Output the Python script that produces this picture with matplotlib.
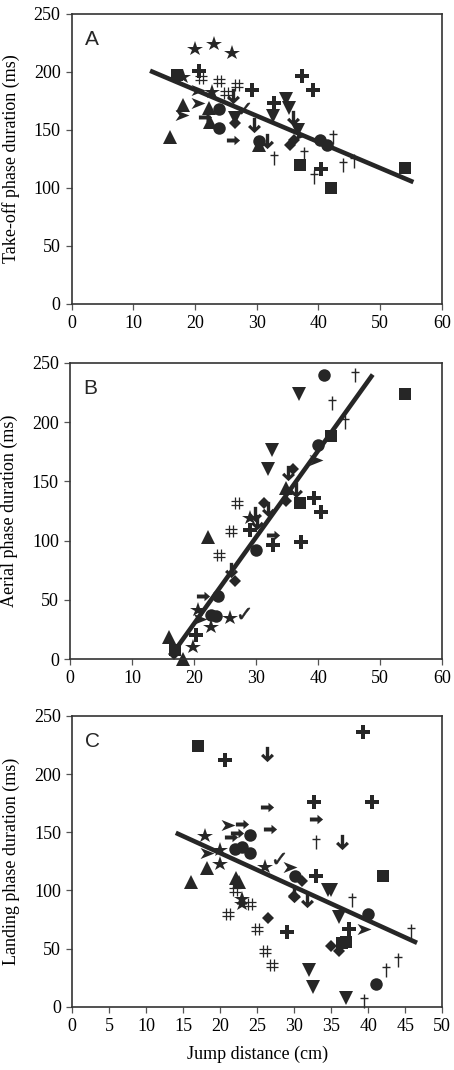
import matplotlib
matplotlib.use('Agg')
import matplotlib.pyplot as plt
import numpy as np
from matplotlib.path import Path

# panel A: take-off phase
a_x = [20, 23, 26, 18, 22.7,
       17, 37, 42, 54,
       20.6, 29.2, 37.3, 39.2, 32.8, 40.4,
       20.9, 23.9, 26.8, 25,
       42.3, 37.6, 32.8, 44, 45.7, 39.3,
       15.9, 18.1, 22.2, 22.4, 30.3,
       34.7, 35.3, 26.5, 36.7, 32.6,
       26.2, 35.9, 29.6, 31.6,
       23.9, 23.9, 30.3, 40.2, 41.4,
       26.5, 35.4, 36,
       26.2, 21.6,
       17.8, 20.5, 20.5, 37,
       28]
a_y = [220, 224, 216, 196, 183,
       197, 120, 100, 117,
       201, 184, 196.5, 184, 173, 116,
       195, 192.5, 189, 181.6,
       144, 129, 126, 120, 123, 109,
       144, 171.5, 169, 157, 137,
       177, 169, 160, 150, 162,
       179, 160, 154, 140,
       168, 152, 140, 141, 137,
       156, 137, 141,
       141, 161,
       163, 184, 173, 146,
       169]
a_kind = ['star'] * 5 + ['square'] * 4 + ['plus'] * 6 + ['hash'] * 4 + ['dagger'] * 6 + \
         ['tri_up'] * 5 + ['tri_down'] * 5 + ['darrow'] * 4 + ['circle'] * 5 + ['diamond'] * 3 + \
         ['rarrow'] * 2 + ['ahead'] * 4 + ['check']

# panel B: aerial phase
b_x = [41, 40, 30, 23.9, 22.8, 23.6,
       46, 42.3, 44.3,
       54, 42, 37.1, 16.9,
       37, 32.5, 32,
       39.6, 21,
       36, 34.9, 31.2, 26.6, 16.7,
       35.2, 36.5, 32, 29.8, 30.1, 26,
       34.9, 22.3, 16, 18.2,
       39.3, 40.4, 37.3, 32.8, 29, 20.4,
       32.8, 21.5,
       27, 26, 24,
       29.1, 20.7, 25.8, 22.8, 19.9,
       28]
b_y = [240, 180.5, 92, 53, 37, 36,
       240, 216, 200,
       224, 188, 131.5, 8,
       224, 176.5, 160,
       168, 34,
       160, 133, 131.5, 65.5, 4,
       157, 143, 127, 122, 116, 75,
       144, 103, 19, 0,
       136, 124, 99, 96, 109, 20.5,
       105, 53,
       132, 108, 88,
       119, 41.6, 35, 27.5, 10.6,
       39]
b_kind = ['circle'] * 6 + ['dagger'] * 3 + ['square'] * 4 + ['tri_down'] * 3 + ['ahead'] * 2 + \
         ['diamond'] * 5 + ['darrow'] * 6 + ['tri_up'] * 4 + ['plus'] * 6 + ['rarrow'] * 2 + \
         ['hash'] * 3 + ['star'] * 5 + ['check']

# panel C: landing phase
c_x = [17, 42, 37, 36.4,
       20.7, 39.3, 32.7, 40.5, 33, 37.4, 29,
       26.3, 36.5, 30, 31.7,
       26.3, 33, 26.7, 23, 22.3, 21.5,
       21.1, 18.2, 29.4, 39.5,
       24, 22, 24, 30.1, 40, 41, 23,
       33, 37.8, 45.8, 44, 42.4, 39.4,
       18, 20, 20, 26.1, 23, 23,
       18.2, 16, 22.2, 22.6,
       28,
       31, 30, 26.5, 35, 36,
       35, 34.6, 36, 32, 32.6, 37,
       22, 24, 21, 25, 26, 27]
c_y = [224, 112, 56, 55,
       212, 236, 176, 176, 112, 67, 64,
       217, 142, 96, 92,
       172, 161, 153, 157, 149, 146,
       156, 132, 120, 67,
       148, 136, 132, 112, 80, 20, 137,
       142, 92, 65, 40, 32, 5,
       147, 135, 123, 120, 93, 88,
       119, 107, 111, 107,
       128,
       108, 95, 76, 52, 48,
       100, 100, 77, 32, 17, 8,
       100, 88, 80, 67, 48, 36]
c_kind = ['square'] * 4 + ['plus'] * 7 + ['darrow'] * 4 + ['rarrow'] * 6 + ['ahead'] * 4 + \
         ['circle'] * 7 + ['dagger'] * 6 + ['star'] * 6 + ['tri_up'] * 4 + ['check'] + \
         ['diamond'] * 5 + ['tri_down'] * 6 + ['hash'] * 6

# regression line end points
a_line_x = [12.7, 55.4]
a_line_y = [201, 105]
b_line_x = [16.4, 48.8]
b_line_y = [3.6, 240]
c_line_x = [14.0, 46.6]
c_line_y = [149.5, 55]

ylabels = ['Take-off phase duration (ms)', 'Aerial phase duration (ms)',
           'Landing phase duration (ms)']
letters = ['A', 'B', 'C']

ink = '#262626'
serif = 'Liberation Serif'

M, L = Path.MOVETO, Path.LINETO
rarrow = Path([(-1, -0.3), (0.15, -0.3), (0.15, -0.72), (1, 0), (0.15, 0.72),
               (0.15, 0.3), (-1, 0.3), (-1, -0.3)])
darrow = Path([(-0.22, 1), (0.22, 1), (0.22, -0.25), (0.55, 0.1), (0.85, -0.2),
               (0, -1), (-0.85, -0.2), (-0.55, 0.1), (-0.22, -0.25), (-0.22, 1)])
ahead = Path([(-1, -0.8), (1, 0), (-1, 0.8), (-0.45, 0), (-1, -0.8)])
hash_mk = Path([(-0.3, -1), (-0.3, 1), (0.3, -1), (0.3, 1),
                (-1, 0.3), (1, 0.3), (-1, -0.3), (1, -0.3)], [M, L] * 4)
dagger = Path([(0, -1), (0, 1), (-0.55, 0.45), (0.55, 0.45)], [M, L] * 2)

# marker, size, edge width, filled
styles = {
    'square': ('s', 8.5, 0, True),
    'circle': ('o', 9, 0, True),
    'tri_up': ('^', 9.5, 0, True),
    'tri_down': ('v', 9.5, 0, True),
    'diamond': ('D', 6.5, 0, True),
    'star': ('*', 11.5, 0, True),
    'plus': ('P', 10, 0, True),
    'hash': (hash_mk, 8, 0.9, False),
    'dagger': (dagger, 10, 1.0, False),
    'check': ('$\u2713$', 8, 0.4, True),
    'rarrow': (rarrow, 9.5, 0, True),
    'darrow': (darrow, 11, 0, True),
    'ahead': (ahead, 10, 0, True),
}

fig = plt.figure(figsize=(4.54, 10.70), dpi=100)
boxes = [[0.158, 0.716, 0.815, 0.271],
         [0.154, 0.384, 0.820, 0.277],
         [0.159, 0.059, 0.815, 0.272]]
panels = [(a_x, a_y, a_kind, a_line_x, a_line_y),
          (b_x, b_y, b_kind, b_line_x, b_line_y),
          (c_x, c_y, c_kind, c_line_x, c_line_y)]

for i, (px, py, pk, lx, ly) in enumerate(panels):
    ax = fig.add_axes(boxes[i])
    px = np.array(px)
    py = np.array(py)
    pk = np.array(pk)
    for kind, (mk, ms, mew, filled) in styles.items():
        sel = pk == kind
        if not sel.any():
            continue
        ax.plot(px[sel], py[sel], linestyle='none', marker=mk, ms=ms, color=ink,
                mec=ink, mfc=ink if filled else 'none', mew=mew, zorder=2, clip_on=False)
    ax.plot(lx, ly, color=ink, lw=3.3, solid_capstyle='butt', zorder=3)

    if i < 2:
        ax.set_xlim(0, 60)
        ax.set_xticks(np.arange(0, 61, 10))
    else:
        ax.set_xlim(0, 50)
        ax.set_xticks(np.arange(0, 51, 5))
        ax.set_xlabel('Jump distance (cm)', family=serif, fontsize=13)
        ax.xaxis.set_label_coords(0.5, -0.132)
    ax.set_ylim(0, 250)
    ax.set_yticks(np.arange(0, 251, 50))
    ax.set_ylabel(ylabels[i], family=serif, fontsize=13)
    ax.yaxis.set_label_coords(-0.14, 0.5)
    ax.tick_params(direction='out', length=4, width=0.9, color='#555555',
                   labelsize=13, pad=4)
    for lab in ax.get_xticklabels() + ax.get_yticklabels():
        lab.set_family(serif)
    for sp in ax.spines.values():
        sp.set_linewidth(1.2)
        sp.set_color('#333333')
    ax.text(0.035, 0.945, letters[i], transform=ax.transAxes, ha='left', va='top',
            fontsize=15, family='Liberation Sans', color=ink)

fig.savefig('out.png', dpi=100)
